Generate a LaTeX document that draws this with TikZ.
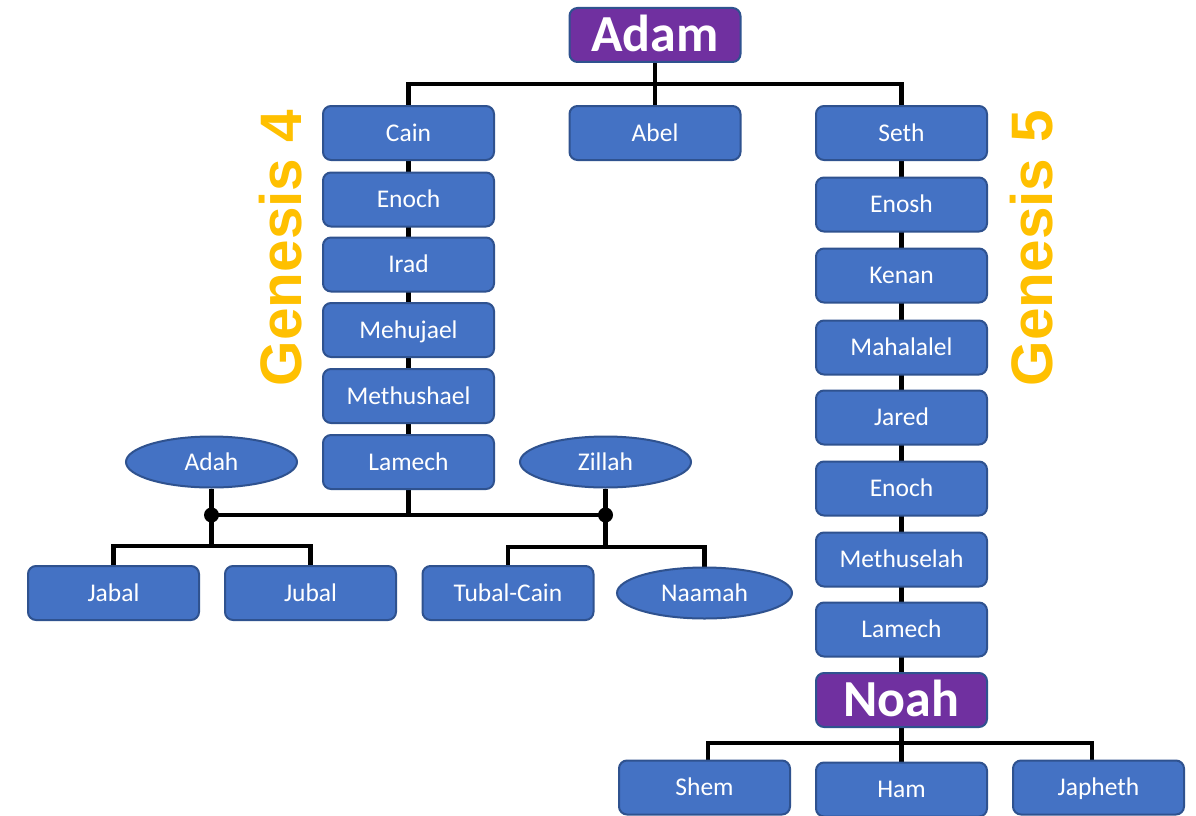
\documentclass[tikz,border=0pt]{standalone}
\usepackage{fontspec}
\setmainfont{Carlito}
\newfontfamily\genfont{Liberation Sans}
\usetikzlibrary{backgrounds,shapes.geometric}
\definecolor{boxblue}{HTML}{4472C4}
\definecolor{boxedge}{HTML}{2F528F}
\definecolor{boxpurple}{HTML}{7030A0}
\definecolor{gold}{HTML}{FFC000}
\tikzset{
  person/.style={rectangle, rounded corners=8pt, draw=boxedge, line width=2pt, fill=boxblue,
    minimum width=171pt, minimum height=54pt, text=white, font=\fontsize{25.5}{30}\selectfont,
    inner sep=0pt, text height=16.4pt, text depth=0pt},
  wife/.style={ellipse, draw=boxedge, line width=2pt, fill=boxblue,
    minimum width=171pt, minimum height=51pt, text=white, font=\fontsize{25.5}{30}\selectfont,
    inner sep=0pt, text height=16.4pt, text depth=0pt},
  patriarch/.style={person, fill=boxpurple, font=\fontsize{52}{56}\selectfont\bfseries,
    text height=33.5pt, text depth=0pt},
  link/.style={line width=4.5pt, draw=black},
  genlabel/.style={text=gold, font=\fontsize{58.5}{62}\selectfont\genfont\bfseries, rotate=90, inner sep=0pt},
  junction/.style={circle, fill=black, minimum size=15pt, inner sep=0pt}
}
\begin{document}
\begin{tikzpicture}[x=1pt,y=-1pt]
\useasboundingbox (0,0) rectangle (1196,816);
% top
\node[patriarch] (adam) at (655,35) {Adam};
\node[person] (cain) at (408.5,133) {Cain};
\node[person] (abel) at (655,133) {Abel};
\node[person] (seth) at (901.5,133) {Seth};
% Genesis 4 line
\node[person] (enoch4) at (408.5,199.5) {Enoch};
\node[person] (irad) at (408.5,264.5) {Irad};
\node[person] (mehujael) at (408.5,330) {Mehujael};
\node[person] (methushael) at (408.5,396) {Methushael};
\node[person] (lamech4) at (408.5,462) {Lamech};
\node[wife] (adah) at (211.5,462) {Adah};
\node[wife] (zillah) at (605.5,462) {Zillah};
\node[junction] (jadah) at (211.5,515) {};
\node[junction] (jzillah) at (605.5,515) {};
\node[person] (jabal) at (113.5,593) {Jabal};
\node[person] (jubal) at (310.5,593) {Jubal};
\node[person] (tubal) at (508,593) {Tubal-Cain};
\node[wife, minimum width=175pt] (naamah) at (704.5,593) {Naamah};
% Genesis 5 line
\node[person] (enosh) at (901.5,204.5) {Enosh};
\node[person] (kenan) at (901.5,275.5) {Kenan};
\node[person] (mahalalel) at (901.5,347.5) {Mahalalel};
\node[person] (jared) at (901.5,417.5) {Jared};
\node[person] (enoch5) at (901.5,488.5) {Enoch};
\node[person] (methuselah) at (901.5,559.5) {Methuselah};
\node[person] (lamech5) at (901.5,629.5) {Lamech};
\node[patriarch] (noah) at (901.5,700) {Noah};
\node[person] (shem) at (704.5,787.5) {Shem};
\node[person] (ham) at (901.5,789.5) {Ham};
\node[person] (japheth) at (1098.5,787.5) {Japheth};
% labels
\node[genlabel] (gen4) at (281,248) {Genesis 4};
\node[genlabel] (gen5) at (1032,248) {Genesis 5};
\begin{scope}[on background layer]
  \fill[white] (0,0) rectangle (1196,816);
  \coordinate (topbar) at (655,84);
  \draw[link] (adam.south) -- (abel.north);
  \draw[link] (cain.north) |- (topbar) -| (seth.north);
  \draw[link] (cain) -- (lamech4);
  \draw[link] (seth) -- (noah);
  \draw[link] (lamech4.south) -- (lamech4.south |- jadah) ;
  \draw[link] (jadah.center) -- (jzillah.center);
  \draw[link] (adah.south) -- (jadah.center);
  \draw[link] (zillah.south) -- (jzillah.center);
  \coordinate (abar) at (211.5,546);
  \coordinate (zbar) at (605.5,547);
  \draw[link] (jadah.center) -- (abar);
  \draw[link] (jabal.north) |- (abar) -| (jubal.north);
  \draw[link] (jzillah.center) -- (zbar);
  \draw[link] (tubal.north) |- (zbar) -| (naamah.north);
  \coordinate (nbar) at (901.5,743);
  \draw[link] (noah.south) -- (ham.north);
  \draw[link] ([xshift=3.5pt]shem.north) |- (nbar) -| ([xshift=-6.5pt]japheth.north);
\end{scope}
\end{tikzpicture}
\end{document}
